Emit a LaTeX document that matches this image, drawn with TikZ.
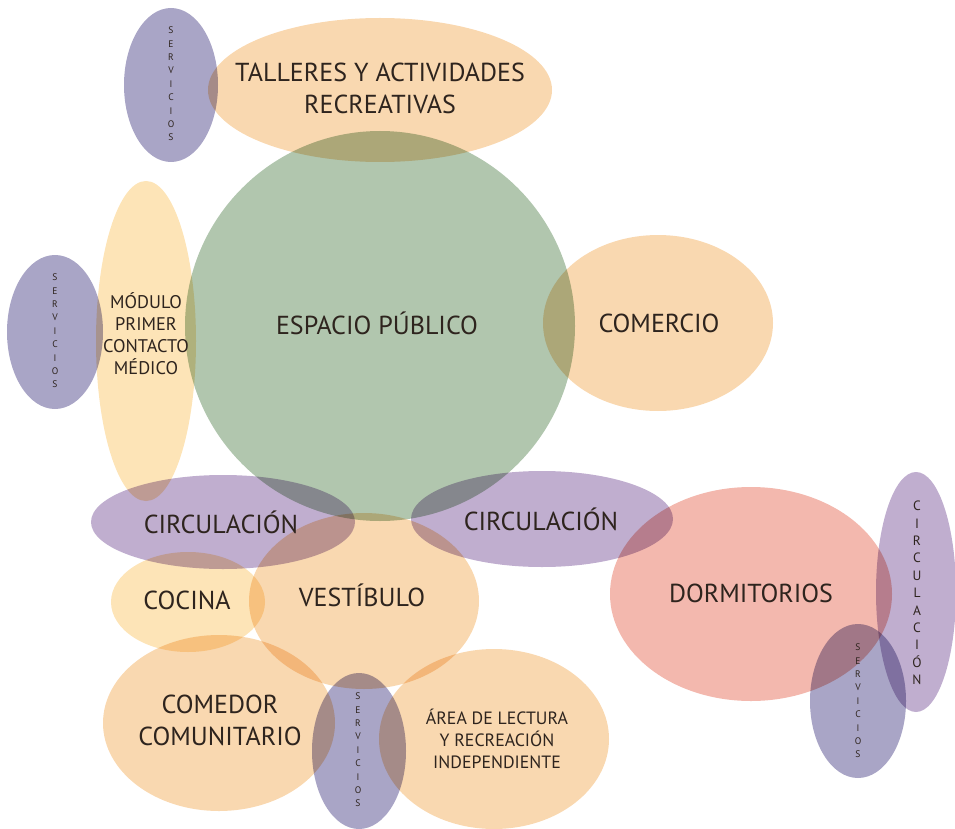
\documentclass[tikz,border=0pt]{standalone}
\usepackage{fontspec}
\setmainfont{PT Sans}
\definecolor{txt}{HTML}{2E241E}
\definecolor{cPeach}{HTML}{F9D8B0}
\definecolor{cYel}{HTML}{FDE4B7}
\definecolor{cGreen}{HTML}{B1C6AE}
\definecolor{cServ}{HTML}{A9A5C6}
\definecolor{cCirc}{HTML}{C0AECF}
\definecolor{cPink}{HTML}{F3B8AE}
\tikzset{
  blob/.style={blend mode=multiply, draw=none},
  lbl/.style={text=txt, align=center, font=\fontsize{26}{32}\selectfont},
  sml/.style={text=txt, align=center, font=\fontsize{18.3}{22}\selectfont},
  vert/.style={text=txt, align=center, font=\fontsize{9.5}{13.4}\selectfont},
  vertb/.style={text=txt, align=center, font=\fontsize{13.5}{17.4}\selectfont},
}
\begin{document}
\begin{tikzpicture}[x=1pt,y=-1pt]
\useasboundingbox (0,0) rectangle (955,829);
% shapes
\fill[blob,cServ] (171,85) ellipse [x radius=47, y radius=77];
\fill[blob,cPeach] (380,90) ellipse [x radius=172, y radius=72];
\fill[blob,cGreen] (380,326) circle [radius=195];
\fill[blob,cPeach] (658,323) ellipse [x radius=115, y radius=88];
\fill[blob,cServ] (55,332) ellipse [x radius=48, y radius=77];
\fill[blob,cYel] (146,341) ellipse [x radius=50, y radius=160];
\fill[blob,cCirc] (223,522) ellipse [x radius=132, y radius=47];
\fill[blob,cCirc] (542,519) ellipse [x radius=131, y radius=48];
\fill[blob,cPeach] (364,601) ellipse [x radius=115, y radius=88];
\fill[blob,cYel] (188,602) ellipse [x radius=77, y radius=50];
\fill[blob,cPeach] (219,723) ellipse [x radius=116, y radius=88];
\fill[blob,cServ] (359,751) ellipse [x radius=47, y radius=78];
\fill[blob,cPeach] (494,739) ellipse [x radius=115, y radius=90];
\fill[blob,cPink] (751,594) ellipse [x radius=141, y radius=107];
\fill[blob,cCirc] (916,592) ellipse [x radius=40, y radius=120];
\fill[blob,cServ] (858,701) ellipse [x radius=48, y radius=77];
% labels
\node[lbl] (talleres) at (380,88) {TALLERES Y ACTIVIDADES\\RECREATIVAS};
\node[lbl] (espacio) at (377,323) {ESPACIO PÚBLICO};
\node[lbl] (comercio) at (659,323) {COMERCIO};
\node[sml] (modulo) at (146,334) {MÓDULO\\PRIMER\\CONTACTO\\MÉDICO};
\node[lbl] (circl) at (221,522) {CIRCULACIÓN};
\node[lbl] (circr) at (541,519) {CIRCULACIÓN};
\node[lbl] (cocina) at (187,600) {COCINA};
\node[lbl] (vest) at (362,595) {VESTÍBULO};
\node[lbl] (dorm) at (751,593) {DORMITORIOS};
\node[lbl] (comedor) at (220,720) {COMEDOR\\COMUNITARIO};
\node[sml, font=\fontsize{17.8}{22}\selectfont] (area) at (497,739) {ÁREA DE LECTURA\\Y RECREACIÓN\\INDEPENDIENTE};
\node[vert] (s1) at (171,84) {S\\E\\R\\V\\I\\C\\I\\O\\S};
\node[vert] (s2) at (55,331) {S\\E\\R\\V\\I\\C\\I\\O\\S};
\node[vert] (s3) at (358,750) {S\\E\\R\\V\\I\\C\\I\\O\\S};
\node[vert] (s4) at (858,701) {S\\E\\R\\V\\I\\C\\I\\O\\S};
\node[vertb] (cv) at (917,593) {C\\I\\R\\C\\U\\L\\A\\C\\I\\Ó\\N};
\end{tikzpicture}
\end{document}
